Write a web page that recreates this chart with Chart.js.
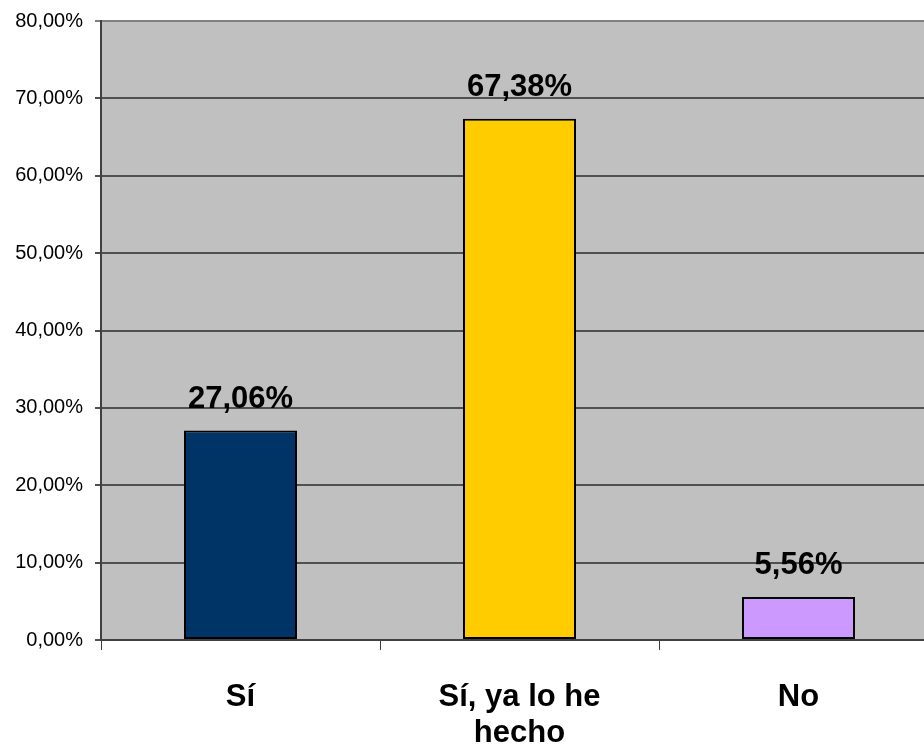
<!DOCTYPE html>
<html>
<head>
<meta charset="utf-8">
<script src="https://cdn.jsdelivr.net/npm/chart.js@4/dist/chart.umd.min.js"></script>
<style>
  html, body { margin: 0; padding: 0; background: #fff; overflow: hidden; }
  #wrap { width: 924px; height: 744px; overflow: hidden; }
</style>
</head>
<body>
<div id="wrap"><canvas id="myChart" width="938" height="744"></canvas></div>
<script>
// Datos del gráfico
const categories = ['Sí', ['Sí, ya lo he', 'hecho'], 'No'];
const values = [27.06, 67.38, 5.56];
const barColors = ['#003366', '#FFCC00', '#CC99FF'];
const yTicks = [0, 10, 20, 30, 40, 50, 60, 70, 80];

function fmtPct(v) {
    return v.toFixed(2).replace('.', ',') + '%';
}

// Fondo gris del área de trazado
const plotBg = {
    id: 'plotBg',
    beforeDraw(chart) {
        const { ctx, chartArea: a } = chart;
        ctx.save();
        ctx.fillStyle = '#C0C0C0';
        ctx.fillRect(a.left, a.top, a.right - a.left, a.bottom - a.top);
        ctx.restore();
    }
};

// Etiquetas de valor encima de cada barra
const valueLabels = {
    id: 'valueLabels',
    afterDatasetsDraw(chart) {
        const ctx = chart.ctx;
        const meta = chart.getDatasetMeta(0);
        ctx.save();
        ctx.font = 'bold 31px "Liberation Sans", Arial, sans-serif';
        ctx.fillStyle = '#000';
        ctx.textAlign = 'center';
        ctx.textBaseline = 'alphabetic';
        meta.data.forEach((bar, i) => {
            ctx.fillText(fmtPct(values[i]), bar.x, bar.y - 23);
        });
        ctx.restore();
    }
};

new Chart(document.getElementById('myChart').getContext('2d'), {
    type: 'bar',
    data: {
        labels: categories,
        datasets: [{
            data: values,
            backgroundColor: barColors,
            borderColor: '#000',
            borderWidth: 2,
            borderSkipped: false,
            categoryPercentage: 1,
            barPercentage: 0.405
        }]
    },
    options: {
        responsive: false,
        animation: false,
        layout: { padding: { top: 21, right: 0, left: 0, bottom: 0 } },
        plugins: {
            legend: { display: false },
            tooltip: { enabled: false }
        },
        scales: {
            x: {
                offset: true,
                afterFit(scale) { scale.height = 104; scale.paddingLeft = 0; scale.paddingRight = 0; },
                grid: {
                    offset: true,
                    drawOnChartArea: false,
                    color: '#404040',
                    tickLength: 10,
                    lineWidth: 1
                },
                border: { color: '#404040', width: 2 },
                ticks: {
                    color: '#000',
                    padding: 29,
                    maxRotation: 0,
                    font: { family: '"Liberation Sans", Arial, sans-serif', size: 31, weight: 'bold', lineHeight: '36px' }
                }
            },
            y: {
                min: 0,
                max: 80,
                afterFit(scale) { scale.width = 101; scale.paddingTop = 0; scale.paddingBottom = 0; },
                afterBuildTicks(scale) {
                    scale.ticks = yTicks.map(v => ({ value: v }));
                },
                grid: {
                    color: (c) => c.tick && c.tick.value === 80 ? '#808080' : '#505050',
                    lineWidth: 2,
                    tickLength: 6
                },
                border: { color: '#404040', width: 2 },
                ticks: {
                    color: '#000',
                    padding: 12,
                    font: { family: '"Liberation Sans", Arial, sans-serif', size: 20 },
                    callback: (v) => fmtPct(v)
                }
            }
        }
    },
    plugins: [plotBg, valueLabels]
});
</script>
</body>
</html>
